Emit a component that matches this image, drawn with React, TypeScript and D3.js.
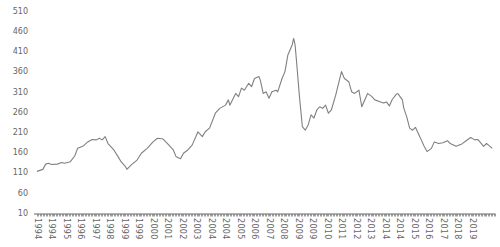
import React, { useEffect, useRef } from "react";
import * as d3 from "d3";

// month label (YYYY-MM) and index value
const pointMonths: string[] = [
  "1994-01","1994-05","1994-07","1994-09","1994-11","1995-03","1995-06","1995-08","1995-12",
  "1996-03","1996-05","1996-09","1996-12","1997-03","1997-06","1997-08","1997-10","1997-12",
  "1998-02","1998-06","1998-09","1998-11","1999-02","1999-03","1999-06","1999-10","2000-01",
  "2000-05","2000-09","2000-12","2001-04","2001-07","2001-11","2002-01","2002-04","2002-06",
  "2002-09","2002-12","2003-04","2003-07","2003-09","2003-12","2004-04","2004-07","2004-11",
  "2005-01","2005-02","2005-06","2005-08","2005-10","2005-12","2006-03","2006-05","2006-07",
  "2006-10","2006-11","2007-01","2007-03","2007-05","2007-07","2007-10","2007-11","2008-02",
  "2008-04","2008-06","2008-09","2008-10","2008-11","2008-12","2009-02","2009-04","2009-06",
  "2009-08","2009-10","2009-12","2010-02","2010-04","2010-06","2010-08","2010-10","2010-12",
  "2011-03","2011-05","2011-07","2011-09","2011-12","2012-02","2012-04","2012-07","2012-09",
  "2013-01","2013-04","2013-06","2013-10","2013-12","2014-02","2014-04","2014-06","2014-09",
  "2014-10","2015-01","2015-02","2015-04","2015-06","2015-08","2015-10","2016-01","2016-02",
  "2016-04","2016-06","2016-09","2016-11","2017-02","2017-05","2017-08","2017-10","2018-02",
  "2018-06","2018-09","2018-12","2019-03","2019-05","2019-09","2019-11","2020-01","2020-03"
];
const pointValues: number[] = [
  113,118,131,133,130,131,135,133,137,
  151,170,176,186,192,191,195,191,199,
  182,166,149,137,125,118,129,141,158,
  170,186,195,193,182,166,149,144,158,
  166,178,211,199,211,220,257,269,277,
  290,277,306,298,319,314,331,323,343,
  348,339,306,310,294,310,314,310,343,
  360,401,426,442,426,385,298,224,215,
  228,253,245,265,273,269,277,257,265,
  302,331,360,343,335,310,306,314,273,
  306,298,290,285,282,285,275,291,305,
  305,290,269,248,220,215,222,199,191,
  175,162,170,186,182,184,189,182,175,
  181,189,197,191,192,175,182,176,170,176
];

const yTicks: number[] = [10, 60, 110, 160, 210, 260, 310, 360, 410, 460, 510];
const startYear = 1994;
const totalMonths = 316;
const labelEvery = 10;

const monthIndex = (s: string) => {
  const [y, m] = s.split("-").map(Number);
  return (y - startYear) * 12 + (m - 1);
};

export default function App() {
  const ref = useRef<SVGSVGElement | null>(null);
  useEffect(() => {
    const svg = d3.select(ref.current);
    svg.selectAll("*").remove();
    const x = d3.scaleLinear().domain([0, totalMonths]).range([37, 495.2]);
    const y = d3.scaleLinear().domain([10, 510]).range([213, 11]);
    const font = "DejaVu Sans, sans-serif";

    // y labels
    svg.append("g").selectAll("text").data(yTicks).join("text")
      .attr("x", 28).attr("y", (d) => y(d)).attr("dy", "0.35em")
      .attr("text-anchor", "end").attr("font-family", font).attr("font-size", 8)
      .attr("fill", "#666").text((d) => String(d));

    // x axis line
    const axisY = 214;
    svg.append("line").attr("x1", 34).attr("x2", 495.5).attr("y1", axisY).attr("y2", axisY)
      .attr("stroke", "#666").attr("stroke-width", 1);
    const months = d3.range(0, totalMonths + 1);
    svg.append("g").selectAll("line").data(months).join("line")
      .attr("x1", (d) => Math.round(x(d)) + 0.5).attr("x2", (d) => Math.round(x(d)) + 0.5)
      .attr("y1", axisY).attr("y2", axisY + 2.5)
      .attr("stroke", "#777").attr("stroke-width", 0.7);

    const labelMonths = months.filter((m) => m % labelEvery === 0 && m < 310);
    svg.append("g").selectAll("text").data(labelMonths).join("text")
      .attr("transform", (d) => `translate(${x(d) + 0.5},${axisY + 4}) rotate(90)`)
      .attr("dy", "0.35em").attr("font-family", font).attr("font-size", 8)
      .attr("letter-spacing", 0.3)
      .attr("fill", "#666").text((d) => String(startYear + Math.floor(d / 12)));

    const data = pointMonths.map((m, i) => [monthIndex(m), pointValues[i]] as [number, number]);
    const line = d3.line<[number, number]>().x((d) => x(d[0])).y((d) => y(d[1]));
    svg.append("path").datum(data).attr("d", line).attr("fill", "none")
      .attr("stroke", "#808080").attr("stroke-width", 1.1).attr("stroke-linejoin", "round");
  }, []);
  return (
    <svg ref={ref} width={500} height={247}
      style={{ position: "absolute", left: 0, top: 0, background: "#fff" }} />
  );
}
